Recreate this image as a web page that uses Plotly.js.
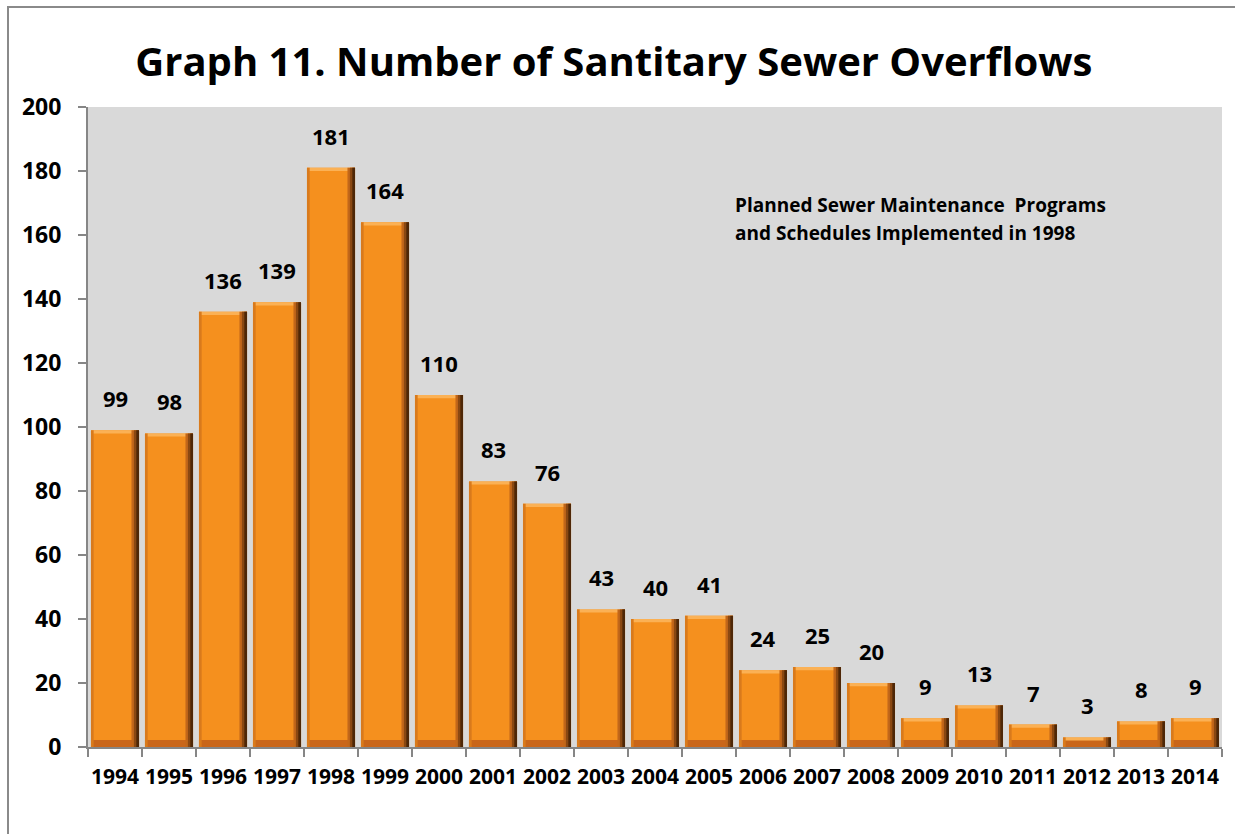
<!DOCTYPE html>
<html>
<head>
<meta charset="utf-8">
<script src="https://cdn.plot.ly/plotly-3.0.1.min.js"></script>
<style>
  html, body { margin: 0; padding: 0; background: #ffffff; }
  #wrap { position: relative; width: 1235px; height: 834px; overflow: hidden; }
  #chart { position: absolute; left: 0; top: 0; width: 1235px; height: 834px; }
  #frame { position: absolute; left: 7px; top: 6px; width: 1240px; height: 840px;
           border-left: 2px solid #8a8a8a; border-top: 2px solid #8a8a8a;
           pointer-events: none; box-sizing: border-box; }
</style>
</head>
<body>
<div id="wrap">
  <div id="chart"></div>
  <div id="frame"></div>
</div>
<script>
// Annual sanitary sewer overflow counts
const years = ['1994','1995','1996','1997','1998','1999','2000','2001','2002','2003','2004',
               '2005','2006','2007','2008','2009','2010','2011','2012','2013','2014'];
const overflows = [99, 98, 136, 139, 181, 164, 110, 83, 76, 43, 40, 41, 24, 25, 20, 9, 13, 7, 3, 8, 9];
const yTicks = [0, 20, 40, 60, 80, 100, 120, 140, 160, 180, 200];
const noteLines = ['Planned Sewer Maintenance\u00a0 Programs', 'and Schedules Implemented in 1998'];

const FONT = 'Open Sans, Liberation Sans, sans-serif';
const HALF = 0.445;           // half bar width in category units
const fill = (v) => years.map(() => v);

// A bar layer spanning [left, left+w] (in category units relative to the centre)
function layer(ys, left, w, color, base) {
  const t = {
    type: 'bar', x: years, y: ys,
    width: fill(w), offset: fill(left),
    marker: { color: color, line: { width: 0 } },
    hoverinfo: 'skip', showlegend: false
  };
  if (base) t.base = base;
  return t;
}

const traces = [
  // body
  layer(overflows, -HALF, 2 * HALF, '#f5901e'),
  // darker chamfer at the foot of each bar
  layer(overflows.map(v => Math.min(v, 2.2)), -HALF, 2 * HALF, '#c9661a'),
  // light bevel along the top edge
  layer(fill(1.0), -HALF, 2 * HALF, '#fbb155', overflows.map(v => v - 1.0)),
  // soft left edge
  layer(overflows, -HALF, 0.05, '#d97a1c'),
  // shaded right edge, darkening outward
  layer(overflows, HALF - 0.14, 0.14, '#c2671a'),
  layer(overflows, HALF - 0.095, 0.095, '#8a4812'),
  layer(overflows, HALF - 0.05, 0.05, '#4e2707')
];

// value labels above each bar (x given as category index)
const annotations = overflows.map((v, i) => ({
  x: i, y: v, xref: 'x', yref: 'y',
  text: String(v), showarrow: false,
  yanchor: 'bottom', xanchor: 'center', yshift: 15,
  font: { family: FONT, size: 22, color: '#000000', weight: 700 }
}));

noteLines.forEach((line, k) => {
  annotations.push({
    x: 0.569, y: k === 0 ? 0.847 : 0.803, xref: 'paper', yref: 'paper',
    text: line, showarrow: false, xanchor: 'left', yanchor: 'middle', align: 'left',
    font: { family: FONT, size: 19, color: '#000000', weight: 700 }
  });
});

const layout = {
  width: 1235, height: 834,
  margin: { l: 88, r: 13, t: 107, b: 87 },
  paper_bgcolor: '#ffffff',
  plot_bgcolor: '#d9d9d9',
  barmode: 'overlay',
  title: {
    text: 'Graph 11. Number of Santitary Sewer Overflows',
    font: { family: FONT, size: 40, color: '#000000', weight: 700 },
    x: 0.497, xanchor: 'center', y: 0.926, yanchor: 'middle', yref: 'container'
  },
  xaxis: {
    type: 'category', range: [-0.5, years.length - 0.5], autorange: false,
    tickson: 'boundaries', ticks: 'outside', ticklen: 8, tickangle: 0,
    tickcolor: '#868686', tickwidth: 2, showline: true, linecolor: '#868686', linewidth: 2,
    showgrid: false, ticklabelstandoff: 10,
    tickfont: { family: FONT, size: 21, color: '#000000', weight: 700 }
  },
  yaxis: {
    range: [0, 200], autorange: false, tickvals: yTicks, ticktext: yTicks.map(String),
    ticks: 'outside', ticklen: 8, tickcolor: '#868686', tickwidth: 2,
    showline: true, linecolor: '#868686', linewidth: 2, showgrid: false, zeroline: false,
    ticklabelstandoff: 12,
    tickfont: { family: FONT, size: 23, color: '#000000', weight: 700 }
  },
  annotations: annotations
};

Plotly.newPlot('chart', traces, layout, { staticPlot: true, displayModeBar: false });
</script>
</body>
</html>
